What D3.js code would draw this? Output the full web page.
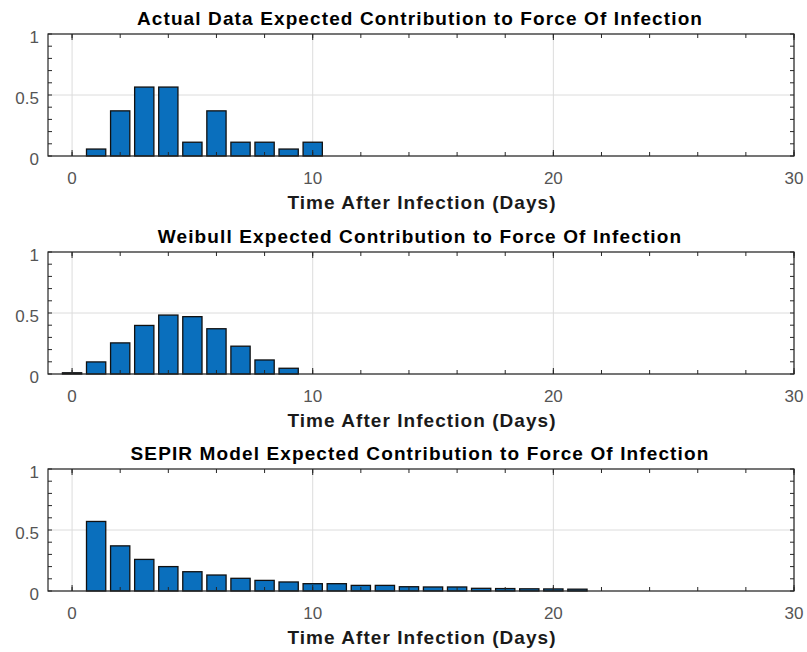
<!DOCTYPE html>
<html>
<head>
<meta charset="utf-8">
<script src="https://cdn.jsdelivr.net/npm/d3@7"></script>
<style>
  html, body { margin: 0; padding: 0; background: #fff; }
  svg { display: block; font-family: "Liberation Sans", Arial, Helvetica, sans-serif; }
</style>
</head>
<body>
<svg id="chart" width="807" height="652"></svg>
<script>
// Days after infection for each panel
const actualDays = [1, 2, 3, 4, 5, 6, 7, 8, 9, 10];
const actualValues = [0.057, 0.37, 0.565, 0.565, 0.113, 0.37, 0.113, 0.113, 0.057, 0.113];

const weibullDays = [0, 1, 2, 3, 4, 5, 6, 7, 8, 9];
const weibullValues = [0.01, 0.099, 0.255, 0.398, 0.483, 0.47, 0.371, 0.228, 0.115, 0.047];

const sepirDays = [1, 2, 3, 4, 5, 6, 7, 8, 9, 10, 11, 12, 13, 14, 15, 16, 17, 18, 19, 20, 21];
const sepirValues = [0.57, 0.37, 0.259, 0.2, 0.158, 0.131, 0.104, 0.087, 0.074, 0.06, 0.06,
                     0.046, 0.046, 0.035, 0.033, 0.033, 0.022, 0.02, 0.018, 0.017, 0.015];

const titles = [
  "Actual Data Expected Contribution to Force Of Infection",
  "Weibull Expected Contribution to Force Of Infection",
  "SEPIR Model Expected Contribution to Force Of Infection"
];
const xLabel = "Time After Infection (Days)";
const xTickValues = [0, 10, 20, 30];
const yTickValues = [0, 0.5, 1];

const panels = [
  { title: titles[0], days: actualDays, values: actualValues, top: 34, bottom: 156 },
  { title: titles[1], days: weibullDays, values: weibullValues, top: 252, bottom: 374 },
  { title: titles[2], days: sepirDays, values: sepirValues, top: 469, bottom: 591 }
];

const svg = d3.select("#chart");
const left = 48, right = 794;
const barColor = "#0a6fbd";
const axisColor = "#262626";
const gridColor = "#dcdcdc";

const x = d3.scaleLinear().domain([-1, 30]).range([left, right]);

panels.forEach(p => {
  const y = d3.scaleLinear().domain([0, 1]).range([p.bottom, p.top]);
  const g = svg.append("g");

  // grid lines
  g.selectAll("line.gx").data(xTickValues).join("line")
    .attr("x1", d => x(d)).attr("x2", d => x(d))
    .attr("y1", p.top).attr("y2", p.bottom)
    .attr("stroke", gridColor).attr("stroke-width", 1);
  g.selectAll("line.gy").data(yTickValues).join("line")
    .attr("x1", left).attr("x2", right)
    .attr("y1", d => y(d)).attr("y2", d => y(d))
    .attr("stroke", gridColor).attr("stroke-width", 1);

  // bars
  const bw = x(0.8) - x(0);
  g.selectAll("rect.bar").data(p.days.map((d, i) => ({ d, v: p.values[i] }))).join("rect")
    .attr("x", e => x(e.d) - bw / 2)
    .attr("y", e => y(e.v))
    .attr("width", bw)
    .attr("height", e => y(0) - y(e.v))
    .attr("fill", barColor)
    .attr("stroke", "#111")
    .attr("stroke-width", 1.3);

  // inward ticks on all four sides (major and minor)
  const xMinor = d3.range(0, 31, 2);
  const yMinor = d3.range(0, 1.0001, 0.1);
  const tickLen = 4;
  const ticks = g.append("g").attr("stroke", axisColor).attr("stroke-width", 1);
  xMinor.forEach(t => {
    ticks.append("line").attr("x1", x(t)).attr("x2", x(t)).attr("y1", p.bottom).attr("y2", p.bottom - tickLen);
    ticks.append("line").attr("x1", x(t)).attr("x2", x(t)).attr("y1", p.top).attr("y2", p.top + tickLen);
  });
  xTickValues.forEach(t => {
    ticks.append("line").attr("x1", x(t)).attr("x2", x(t)).attr("y1", p.bottom).attr("y2", p.bottom - 6);
    ticks.append("line").attr("x1", x(t)).attr("x2", x(t)).attr("y1", p.top).attr("y2", p.top + 6);
  });
  yMinor.forEach(t => {
    ticks.append("line").attr("x1", left).attr("x2", left + tickLen).attr("y1", y(t)).attr("y2", y(t));
    ticks.append("line").attr("x1", right).attr("x2", right - tickLen).attr("y1", y(t)).attr("y2", y(t));
  });

  // axes box
  g.append("rect")
    .attr("x", left).attr("y", p.top)
    .attr("width", right - left).attr("height", p.bottom - p.top)
    .attr("fill", "none").attr("stroke", axisColor).attr("stroke-width", 1.2);

  // tick labels
  g.selectAll("text.xt").data(xTickValues).join("text")
    .attr("x", d => x(d)).attr("y", p.bottom + 28)
    .attr("text-anchor", "middle")
    .attr("font-size", 17).attr("fill", "#555")
    .text(d => d);
  g.selectAll("text.yt").data(yTickValues).join("text")
    .attr("x", left - 9).attr("y", d => y(d) + 8.5)
    .attr("text-anchor", "end")
    .attr("font-size", 17).attr("fill", "#555")
    .text(d => d);

  // x label
  g.append("text")
    .attr("x", (left + right) / 2 + 1).attr("y", p.bottom + 53)
    .attr("text-anchor", "middle")
    .attr("font-size", 19).attr("font-weight", "bold").attr("fill", "#1a1a1a")
    .attr("letter-spacing", 1.05)
    .text(xLabel);

  // title
  g.append("text")
    .attr("x", (left + right) / 2 - 1).attr("y", p.top - 9)
    .attr("text-anchor", "middle")
    .attr("font-size", 19).attr("font-weight", "bold").attr("fill", "#000")
    .attr("letter-spacing", 1.12)
    .text(p.title);
});
</script>
</body>
</html>
